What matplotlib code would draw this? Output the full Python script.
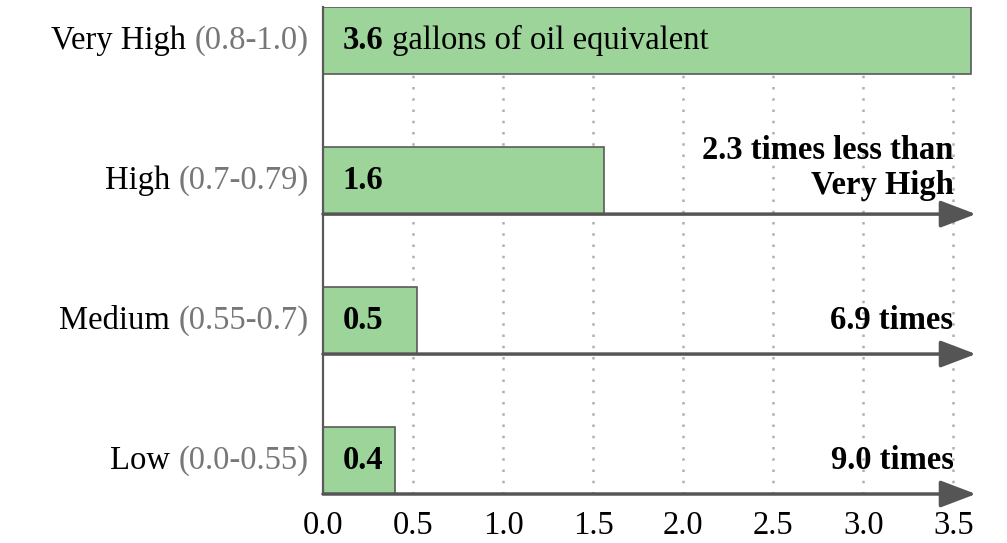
import numpy as np
import matplotlib.pyplot as plt

plt.rcParams['font.family'] = ['Liberation Serif', 'DejaVu Serif']

# data (bottom to top)
categories = ["Low", "Medium", "High", "Very High"]
ranges = ["(0.0-0.55)", "(0.55-0.7)", "(0.7-0.79)", "(0.8-1.0)"]
values = [0.4, 0.52, 1.56, 3.6]
xticks = [0.0, 0.5, 1.0, 1.5, 2.0, 2.5, 3.0, 3.5]

bar_color = "#9dd49a"
edge_color = "#5a5a5a"
fs = 23.5

fig = plt.figure(figsize=(10.07, 5.43), dpi=100)
ax = fig.add_axes([323 / 1007, 49 / 543, 652 / 1007, 487 / 543])

y = np.arange(len(categories))
h = 0.48
ax.barh(y, values, height=h, color=bar_color, edgecolor=edge_color, linewidth=1.2, zorder=3)

ax.set_xlim(0, 3.62)
ax.set_ylim(-h / 2, len(categories) - 1 + h / 2)

for x in xticks[1:]:
    ax.axvline(x, color="#b0b0b0", linestyle=(0, (1, 3.5)), linewidth=1.8, zorder=1)

for s in ax.spines.values():
    s.set_visible(False)
ax.plot([0, 0], [-h / 2, len(categories) - 1 + h / 2], color=edge_color, lw=1.6,
        zorder=4, clip_on=False)

# arrows under the lower bars
for yi in y[:-1]:
    ax.annotate("", xy=(3.625, yi - h / 2), xytext=(0, yi - h / 2),
                arrowprops=dict(arrowstyle="-|>,head_length=1.0,head_width=0.38",
                                color="#555555", lw=2.5, mutation_scale=22,
                                shrinkA=0, shrinkB=0),
                zorder=5, annotation_clip=False)

ax.set_xticks(xticks)
ax.set_xticklabels([f"{v:.1f}" for v in xticks], fontsize=fs)
ax.tick_params(axis="x", length=0, pad=12)
ax.set_yticks([])

# y labels: category in black, range in grey
for yi, cat, rng in zip(y, categories, ranges):
    t = ax.text(-0.08, yi, rng, ha="right", va="center", fontsize=fs, color="#777777")
    ax.annotate(cat, xy=(0, 0.5), xycoords=t, xytext=(-6, 0), textcoords="offset points",
                ha="right", va="center", fontsize=fs, color="black")

# bar value labels
for yi, v in zip(y, values):
    t = ax.text(0.11, yi, f"{v:.1f}", ha="left", va="center", fontsize=fs,
                fontweight="bold", zorder=6)
    if v == max(values):
        ax.annotate(" gallons of oil equivalent", xy=(1, 0.5), xycoords=t,
                    ha="left", va="center", fontsize=fs, zorder=6)

# ratio labels
top = max(values)
for yi, v in zip(y[:-1], values[:-1]):
    r = top / v
    if yi == y[-2]:
        ax.text(3.5, yi + 0.09, f"{r:.1f} times less than\nVery High", ha="right",
                va="center", fontsize=fs, fontweight="bold", zorder=6, linespacing=1.15)
    else:
        ax.text(3.5, yi, f"{r:.1f} times", ha="right", va="center", fontsize=fs,
                fontweight="bold", zorder=6)

plt.savefig("out.png", dpi=100)
plt.close()
